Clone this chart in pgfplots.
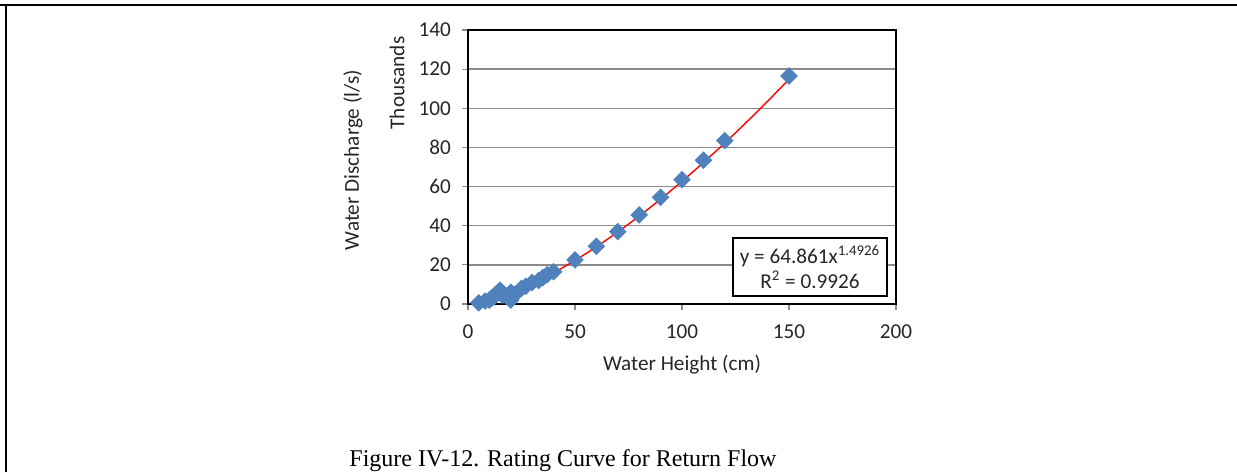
\documentclass[border=0pt]{standalone}
\usepackage{fontspec}
\setmainfont{Carlito}
\newfontfamily\capfont{Liberation Serif}
\usepackage{pgfplots}
\pgfplotsset{compat=1.18}
\definecolor{xlblue}{HTML}{4F81BD}
\definecolor{xlgrid}{HTML}{8C8C8C}
\newcommand{\chartfont}{\fontsize{10.6}{12.5}\selectfont}

\begin{document}
\begin{tikzpicture}[x=1pt,y=1pt]
\useasboundingbox (0,0) rectangle (618.5,236);
% cell frame of the page table
\draw[line width=1.2pt] (0,233.5) -- (618.5,233.5);
\draw[line width=1.2pt] (3,0) -- (3,234);
\begin{axis}[
  at={(234pt,84pt)}, anchor=south west,
  scale only axis, width=214pt, height=137pt,
  xmin=0, xmax=200, ymin=0, ymax=140,
  xtick={0,50,...,200}, ytick={0,20,...,140},
  xtick pos=left, ytick pos=left,
  ymajorgrids, grid style={xlgrid, line width=0.75pt},
  axis line style={black, line width=1.2pt},
  tick align=outside, major tick length=3pt,
  tick style={xlgrid, line width=0.6pt},
  /pgf/number format/assume math mode=true,
  ticklabel style={font=\chartfont, text=black!85},
  xticklabel style={yshift=-4pt},
  yticklabel style={xshift=-2pt},
  clip=false,
]
\addplot[only marks, mark=square*, mark size=2.9pt,
  mark options={rotate=45, fill=xlblue, draw=xlblue}] coordinates {
  (5,0.6) (8,1.5) (10,2) (11,3) (12,3.5) (13,5) (14,6) (15,7) (16,4.5)
  (18,4) (20,2) (20,6) (22,5) (25,8) (27,9) (30,11) (33,12) (35,13.5)
  (37,15) (40,16.5) (50,22.5) (60,29.5) (70,37)
  (80,45.5) (90,54.5) (100,63.5) (110,73.5) (120,83.5) (150,116.5)};
% power trend line y = 64.861 x^1.4926 (l/s), in thousands
\addplot[red, line width=0.7pt, smooth] coordinates {
  (5,0.72) (10,2.02) (15,3.69) (20,5.67) (30,10.39) (40,15.97)
  (50,22.28) (60,29.25) (70,36.81) (80,44.92) (90,53.57) (100,62.69)
  (110,72.27) (120,82.30) (130,92.74) (140,103.58) (150,114.82)};
\node[draw=black, line width=0.6pt, fill=white, align=center,
  minimum width=77pt, minimum height=29pt, inner sep=2pt,
  font=\chartfont, text=black!85] at (axis cs:159.8,18.9)
  {y = 64.861x\textsuperscript{1.4926}\\R\textsuperscript{2} = 0.9926};
\end{axis}
\node[rotate=90, font=\chartfont, text=black!85] at (176.5,156) {Water Discharge (l/s)};
\node[rotate=90, font=\chartfont, text=black!85] at (198.5,194.5) {Thousands};
\node[font=\chartfont, text=black!85] at (341,53.5) {Water Height (cm)};
\node[font=\capfont\fontsize{12}{14}\selectfont, anchor=base] at (281.5,3)
  {Figure IV-12. Rating Curve for Return Flow};
\end{tikzpicture}
\end{document}
